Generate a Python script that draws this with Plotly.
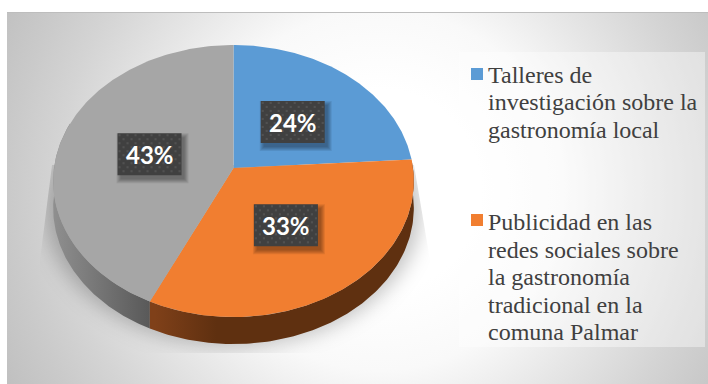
import base64
import numpy as np
import plotly.graph_objects as go

# Survey shares, clockwise from twelve o'clock
categories = [
    "Talleres de investigación sobre la gastronomía local",
    "Publicidad en las redes sociales sobre la gastronomía tradicional en la comuna Palmar",
    "Otros",
]
shares = [24, 33, 43]
top_colors = ["#5B9BD5", "#F17E30", "#A6A6A6"]

legend_first_lines = ["Talleres de", "investigación sobre la", "gastronomía local"]
legend_second_lines = [
    "Publicidad en las",
    "redes sociales sobre",
    "la gastronomía",
    "tradicional en la",
    "comuna Palmar",
]

W, H = 708, 384
CX, CY = 233.5, 168.0      # pie centre on screen
RX, RY = 179.5, 134.8      # projected radii
TILT = 0.0956              # foreshortening of the far edge
DEPTH = 27.0               # wall height


def project(theta_deg, r=1.0):
    """Tilted-disc projection of a polar position (clockwise from the top)."""
    t = np.radians(theta_deg)
    u, v = r * np.sin(t), r * np.cos(t)
    w = 1 + TILT * v
    return CX + RX * u / w, CY - RY * v / w


edges = np.concatenate([[0], np.cumsum(shares)]) * 360.0 / sum(shares)

# Page background: soft radial wash with the pie's blurred cast shadow
svg = f"""<svg xmlns='http://www.w3.org/2000/svg' width='{W}' height='{H}' viewBox='0 0 {W} {H}'>
<defs>
<radialGradient id='g' gradientUnits='userSpaceOnUse' cx='380' cy='190' r='420'>
<stop offset='0.24' stop-color='#ffffff'/>
<stop offset='0.43' stop-color='#f9f9f9'/>
<stop offset='0.60' stop-color='#e6e6e6'/>
<stop offset='0.77' stop-color='#d4d4d4'/>
<stop offset='0.88' stop-color='#cacaca'/>
<stop offset='1' stop-color='#c0c0c0'/>
</radialGradient>
<filter id='b' x='-20%' y='-20%' width='140%' height='140%'><feGaussianBlur stdDeviation='10'/></filter>
<clipPath id='c'><path d='M52 165 L414 165 L430 260 L430 353 L40 353 L40 260 Z'/></clipPath>
</defs>
<rect x='7' y='12' width='{W - 7}' height='{H - 12}' fill='url(#g)'/>
<g clip-path='url(#c)'><ellipse cx='233' cy='208' rx='188' ry='138' fill='#000' fill-opacity='0.24' filter='url(#b)'/></g>
<rect x='7' y='12' width='{W - 7}' height='1' fill='#bdbdbd'/>
</svg>"""
bg_uri = "data:image/svg+xml;base64," + base64.b64encode(svg.encode()).decode()

fig = go.Figure()


def wall(start, stop, scale, x0, x1):
    th = np.linspace(start, stop, 120)
    x, y = project(th)
    xs = np.concatenate([x, x[::-1]])
    ys = np.concatenate([y, y[::-1] + DEPTH])
    fig.add_trace(go.Scatter(
        x=xs, y=ys, mode="lines", line=dict(width=0), fill="toself",
        fillgradient=dict(type="horizontal", colorscale=scale, start=x0, stop=x1),
        hoverinfo="skip", showlegend=False,
    ))


# Side walls of the two slices that face the viewer
wall(edges[2], 290, [[0, "#8E8E8E"], [1, "#565656"]], 55, 155)
wall(edges[1], edges[2], [[0, "#7F4019"], [0.35, "#5F3010"], [1, "#5F3010"]], 155, 330)

# Top face
for i, name in enumerate(categories):
    th = np.linspace(edges[i], edges[i + 1], 160)
    x, y = project(th)
    fig.add_trace(go.Scatter(
        x=np.concatenate([[CX], x, [CX]]), y=np.concatenate([[CY], y, [CY]]),
        mode="lines", line=dict(width=0), fill="toself", fillcolor=top_colors[i],
        name=name, hoverinfo="name", showlegend=False,
    ))

# Percentage tags: dark dotted boxes with a soft drop shadow
BOX_W, BOX_H = 64, 42
annotations = []
for i, value in enumerate(shares):
    bx, by = project((edges[i] + edges[i + 1]) / 2, 0.49)
    bx, by = float(bx) + 1, float(by) + 0.5
    l, r, t, b = bx - BOX_W / 2, bx + BOX_W / 2, by - BOX_H / 2, by + BOX_H / 2
    for grow in (4, 3, 2, 1, 0):
        fig.add_trace(go.Scatter(
            x=[l + 3 - grow, r + 3 + grow, r + 3 + grow, l + 3 - grow, l + 3 - grow],
            y=[t + 4 - grow, t + 4 - grow, b + 4 + grow, b + 4 + grow, t + 4 - grow],
            mode="lines", line=dict(width=0), fill="toself",
            fillcolor="rgba(0,0,0,0.08)", hoverinfo="skip", showlegend=False,
        ))
    fig.add_trace(go.Scatter(
        x=[l, r, r, l, l], y=[t, t, b, b, t], mode="lines", line=dict(width=0),
        fill="toself", fillcolor="#404040", hoverinfo="skip", showlegend=False,
    ))
    dx, dy = [], []
    for row, yy in enumerate(np.arange(t + 2, b, 4.0)):
        for xx in np.arange(l + 2 + (row % 2) * 4, r, 8.0):
            dx.append(xx)
            dy.append(yy)
    fig.add_trace(go.Scatter(
        x=dx, y=dy, mode="markers",
        marker=dict(symbol="square", size=2.2, color="#515151", line=dict(width=0)),
        hoverinfo="skip", showlegend=False,
    ))
    annotations.append(dict(
        x=bx, y=by + 0.5, text=f"{value}%", showarrow=False,
        xref="x", yref="y", xanchor="center", yanchor="middle",
        font=dict(family="Lato", size=24, color="#FFFFFF", weight=700),
    ))

# Legend text, one annotation per line to hold the exact leading
first_baselines = [82, 109, 137]
second_baselines = [229, 257, 284, 312, 339]
pairs = list(zip(legend_first_lines, first_baselines)) + list(zip(legend_second_lines, second_baselines))
for line, base in pairs:
    annotations.append(dict(
        x=485.5, y=base - 7, text=line, showarrow=False, xref="x", yref="y",
        xanchor="left", yanchor="middle", align="left",
        font=dict(family="Liberation Serif", size=24, color="#404040"),
    ))

shapes = [
    dict(type="rect", x0=459, x1=705, y0=52, y1=347, xref="x", yref="y",
         fillcolor="rgba(255,255,255,0.4)", line=dict(width=0), layer="above"),
    dict(type="rect", x0=471, x1=483, y0=68, y1=80, xref="x", yref="y",
         fillcolor=top_colors[0], line=dict(width=0)),
    dict(type="rect", x0=471, x1=483, y0=214, y1=226, xref="x", yref="y",
         fillcolor=top_colors[1], line=dict(width=0)),
]

fig.update_layout(
    width=W, height=H, autosize=False,
    margin=dict(l=0, r=0, t=0, b=0, pad=0),
    paper_bgcolor="#FFFFFF", plot_bgcolor="rgba(0,0,0,0)",
    xaxis=dict(range=[0, W], visible=False, fixedrange=True),
    yaxis=dict(range=[H, 0], visible=False, fixedrange=True),
    images=[dict(source=bg_uri, xref="x", yref="y", x=0, y=0, sizex=W, sizey=H,
                 sizing="stretch", xanchor="left", yanchor="top", layer="below")],
    shapes=shapes, annotations=annotations, showlegend=False,
)

fig.write_html("out.html", config=dict(displayModeBar=False))
